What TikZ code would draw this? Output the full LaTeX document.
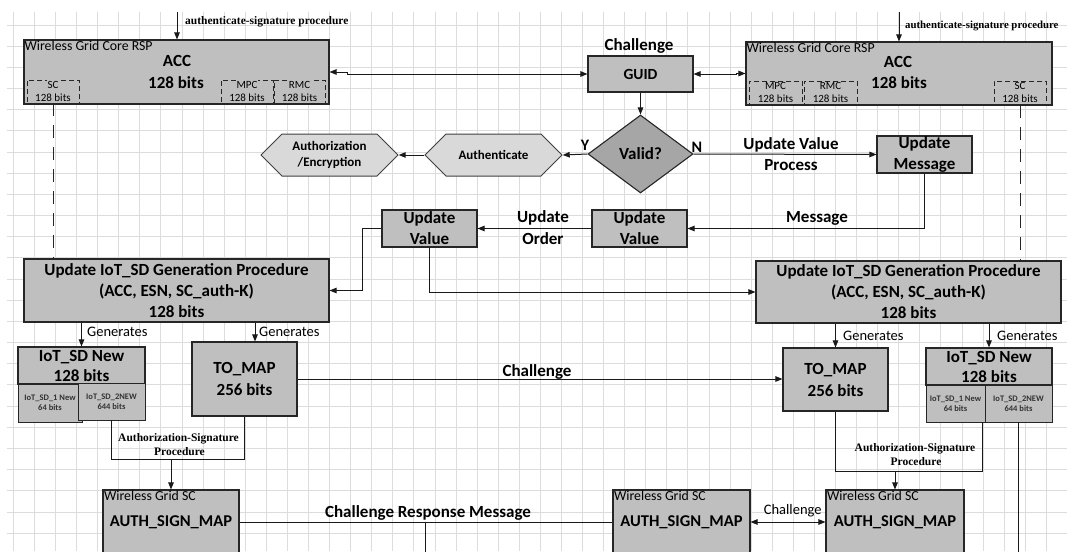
\documentclass[tikz,border=0pt]{standalone}
\usepackage{fontspec}
\setmainfont{Carlito}
\newfontfamily\timesfont{Liberation Serif}
\usetikzlibrary{arrows.meta,shapes.geometric,shapes.symbols}
\definecolor{boxgray}{HTML}{BFBFBF}
\definecolor{hexgray}{HTML}{D9D9D9}
\definecolor{diagray}{HTML}{A6A6A6}
\definecolor{gridline}{HTML}{DCDCDC}
\definecolor{edge}{HTML}{262626}
\definecolor{hexedge}{HTML}{404040}
\newcommand\fsz[2]{\fontsize{#1}{#2}\selectfont}

\begin{document}
\begin{tikzpicture}[x=1pt,y=-1pt,
  box/.style={draw=edge, fill=boxgray, line width=1.1pt, inner sep=0pt, align=center},
  subbox/.style={draw=edge, fill=boxgray, line width=0.9pt, inner sep=0pt, align=center,
                 font=\fsz{8.5}{10}\bfseries, text=black!80},
  dbox/.style={draw=edge, dash pattern=on 5pt off 3pt, line width=0.8pt, inner sep=0pt},
  hexa/.style={shape=signal, signal to=west and east, signal pointer angle=90,
               draw=hexedge, fill=hexgray, line width=1pt, inner sep=0pt,
               minimum height=42, font=\fsz{13}{16.5}\bfseries, align=center},
  big/.style={font=\fsz{17}{21}\bfseries},
  lab/.style={font=\fsz{17}{20}\bfseries, inner sep=0pt},
  gen/.style={font=\fsz{14.5}{16}, inner sep=0pt},
  tnr/.style={font=\timesfont\bfseries\fsz{11.5}{13}, inner sep=0pt},
  tag/.style={font=\fsz{13.8}{15}, inner sep=1pt, anchor=north west},
  tiny/.style={font=\fsz{11}{12}, inner sep=0.5pt, fill=boxgray},
  conn/.style={line width=1pt, draw=black!90},
  arr/.style={conn, -{Triangle[length=7pt,width=5.5pt]}},
  darr/.style={conn, {Triangle[length=7pt,width=5.5pt]}-{Triangle[length=7pt,width=5.5pt]}},
  vdash/.style={line width=1pt, draw=black!85, dash pattern=on 13pt off 9pt},
]
\useasboundingbox (0,0) rectangle (1067,551);
\clip (0,0) rectangle (1067,551);
\fill[white] (0,0) rectangle (1067,551);

% background grid
\foreach \i in {0,...,49}
  \draw[gridline, line width=0.8pt] ({13.3+21.08*\i},12) -- ({13.3+21.08*\i},551);
\foreach \j in {0,...,24}
  \draw[gridline, line width=0.8pt] (7,{25+21.17*\j}) -- (1067,{25+21.17*\j});

% ---- core RSP, left
\node[box, minimum width=305, minimum height=64] (accL) at (176.5,72) {};
\node[tag] (accLtag) at (accL.north west) {Wireless Grid Core RSP};
\node[big, inner sep=0pt] (accLname) at (177,61) {ACC};
\node[big, inner sep=0pt] (accLbits) at (176,83) {128 bits};
\node[dbox, minimum width=52, minimum height=23] (scL) at (53,91.5) {};
\node[dbox, minimum width=52, minimum height=23] (mpcL) at (247,91.5) {};
\node[dbox, minimum width=51, minimum height=23] (rmcL) at (299.5,91.5) {};
\node[tiny] (scLa) at (53,84.5) {SC};
\node[tiny] (scLb) at (53,97.5) {128 bits};
\node[tiny] (mpcLa) at (247,84.5) {MPC};
\node[tiny] (mpcLb) at (247,97.5) {128 bits};
\node[tiny] (rmcLa) at (299.5,84.5) {RMC};
\node[tiny] (rmcLb) at (299.5,97.5) {128 bits};

% ---- core RSP, right
\node[box, minimum width=306, minimum height=63] (accR) at (899,73.5) {};
\node[tag] (accRtag) at (accR.north west) {Wireless Grid Core RSP};
\node[big, inner sep=0pt] (accRname) at (898,62) {ACC};
\node[big, inner sep=0pt] (accRbits) at (899,83) {128 bits};
\node[dbox, minimum width=53, minimum height=24] (mpcR) at (775.5,93) {};
\node[dbox, minimum width=53, minimum height=24] (rmcR) at (830.5,93) {};
\node[dbox, minimum width=52, minimum height=24] (scR) at (1020,93) {};
\node[tiny] (mpcRa) at (775.5,86) {MPC};
\node[tiny] (mpcRb) at (775.5,99) {128 bits};
\node[tiny] (rmcRa) at (830.5,86) {RMC};
\node[tiny] (rmcRb) at (830.5,99) {128 bits};
\node[tiny] (scRa) at (1020,86) {SC};
\node[tiny] (scRb) at (1020,99) {128 bits};

% incoming signature procedure
\coordinate (inL) at (177,12);
\coordinate (inR) at (899,12);
\draw[arr] (inL) -- (inL |- accL.north);
\draw[arr] (inR) -- (inR |- accR.north);
\node[tnr, anchor=base west] (sigL) at (185,25) {authenticate-signature procedure};
\node[tnr, anchor=base west, font=\timesfont\bfseries\fsz{10.8}{12}] (sigR) at (905,29) {authenticate-signature procedure};

% ---- challenge / GUID
\node[box, minimum width=105, minimum height=36, font=\fsz{15.5}{17}\bfseries] (guid) at (640.5,74) {GUID};
\node[lab, anchor=base] (chalTop) at (639,51) {Challenge};
\draw[darr] (accL.east) -- ++(18,0) |- (guid.west);
\draw[darr] (guid.east) -- ++(43,0) |- (accR.west);

% ---- validation
\node[shape=diamond, draw=edge, fill=diagray, line width=1.1pt, inner sep=0pt,
      minimum width=105, minimum height=78, font=\fsz{17}{19}\bfseries] (valid) at (640.5,154) {Valid?};
\draw[arr] (guid.south) -- (valid.north);
\node[hexa, minimum width=137] (authen) at (493.5,155) {Authenticate};
\node[hexa, minimum width=137] (authz) at (329.5,155) {Authorization\\/Encryption};
\draw[arr] (valid.west) -- (authen.east);
\draw[arr] (authen.west) -- (authz.east);
\node[font=\fsz{16}{18}\bfseries, inner sep=0pt] (ylab) at (585,145) {Y};
\node[font=\fsz{16}{18}\bfseries, inner sep=0pt] (nlab) at (697,147) {N};

% ---- update chain
\node[box, big, minimum width=95, minimum height=37] (updmsg) at (924.5,154.5) {Update\\Message};
\draw[arr] (valid.east) -- (updmsg.west);
\node[lab, anchor=base] (uvp1) at (791,149.5) {Update Value};
\node[lab, anchor=base] (uvp2) at (791,170) {Process};

\node[box, big, minimum width=95, minimum height=37] (updvalR) at (639.5,228.5) {Update\\Value};
\node[box, big, minimum width=95, minimum height=37] (updvalL) at (429.5,228.5) {Update\\Value};
\draw[arr] (updmsg.south) |- (updvalR.east);
\node[lab, anchor=base] (msglab) at (817,222.7) {Message};
\draw[arr] (updvalR.west) -- (updvalL.east);
\node[lab, anchor=base] (uo1) at (543,222.7) {Update};
\node[lab, anchor=base] (uo2) at (543,244) {Order};

% ---- generation procedures
\node[box, big, minimum width=305, minimum height=63] (genL) at (176.5,290.5)
  {Update IoT\_SD Generation Procedure\\(ACC, ESN, SC\_auth-K)\\128 bits};
\node[box, big, minimum width=305, minimum height=62] (genR) at (908.5,292)
  {Update IoT\_SD Generation Procedure\\(ACC, ESN, SC\_auth-K)\\128 bits};
\draw[arr] (updvalL.west) -- ++(-19,0) |- (genL.east);
\draw[arr] (updvalL.south) |- (genR.west);
\draw[vdash] (scL.south) -- (scL.south |- genL.north);
\draw[vdash] (scR.south) -- (scR.south |- genR.north);

% ---- generated values, left
\node[box, font=\fsz{17}{20}\bfseries, minimum width=127, minimum height=37] (iotL) at (81.5,365.5) {IoT\_SD New\\128 bits};
\node[subbox, minimum width=64, minimum height=38] (iot1L) at (50,403) {IoT\_SD\_1 New\\64 bits};
\node[subbox, minimum width=67, minimum height=37] (iot2L) at (111.5,401.5) {IoT\_SD\_2NEW\\644 bits};
\node[box, font=\fsz{17}{22}\bfseries, minimum width=105, minimum height=74] (mapL) at (244.5,379) {TO\_MAP\\256 bits};
\draw[arr] (genL.south -| iotL.north) -- (iotL.north);
\node[gen, anchor=base west] (genlab1) at (87,336.7) {Generates};
\coordinate (mapLin) at ([xshift=10.5]mapL.north);
\draw[arr] (mapLin |- genL.south) -- (mapLin);
\node[gen, anchor=base west] (genlab2) at (259,336.7) {Generates};

% ---- generated values, right
\node[box, font=\fsz{17}{22}\bfseries, minimum width=105, minimum height=63] (mapR) at (835.5,379.5) {TO\_MAP\\256 bits};
\node[box, font=\fsz{17}{20}\bfseries, minimum width=126, minimum height=37] (iotR) at (989,366.5) {IoT\_SD New\\128 bits};
\node[subbox, minimum width=59, minimum height=37] (iot1R) at (955.5,403.5) {IoT\_SD\_1 New\\64 bits};
\node[subbox, minimum width=67, minimum height=37] (iot2R) at (1018.5,403.5) {IoT\_SD\_2NEW\\644 bits};
\draw[arr] (mapR.north |- genR.south) -- (mapR.north);
\node[gen, anchor=base west] (genlab3) at (843,340.7) {Generates};
\draw[arr] (iotR.north |- genR.south) -- (iotR.north);
\node[gen, anchor=base west] (genlab4) at (997,340.7) {Generates};

% challenge between the maps
\draw[arr] (mapL.east) -- (mapL.east -| mapR.west);
\node[lab, anchor=base] (chalMid) at (537,376.7) {Challenge};

% ---- authorization-signature, left
\coordinate (brL) at (171,459);
\draw[conn] (iot2L.south) -- (iot2L.south |- brL) -| (mapL.south);
\node[tnr, anchor=base] (asL1) at (178.5,441) {Authorization-Signature};
\node[tnr, anchor=base] (asL2) at (179.5,455) {Procedure};
\node[box, font=\fsz{16.5}{18}\bfseries, minimum width=136, minimum height=64] (authL) at (171,522) {AUTH\_SIGN\_MAP};
\node[tag, inner sep=1.5pt] (authLtag) at (authL.north west) {Wireless Grid SC};
\draw[arr] (brL) -- (authL.north);

% ---- authorization-signature, right
\coordinate (brR) at (895,471);
\coordinate (brRup) at ([xshift=-2.5]iot1R.south east);
\draw[conn] (mapR.south) -- (mapR.south |- brR) -| (brRup);
\node[tnr, anchor=base] (asR1) at (915,451.5) {Authorization-Signature};
\node[tnr, anchor=base] (asR2) at (916,465.5) {Procedure};
\node[box, font=\fsz{16.5}{18}\bfseries, minimum width=138, minimum height=64] (authR) at (895,522) {AUTH\_SIGN\_MAP};
\node[tag, inner sep=1.5pt] (authRtag) at (authR.north west) {Wireless Grid SC};
\draw[arr] (brR) -- (authR.north);
\coordinate (iotRend) at (1018.5,560);
\draw[conn] (iot2R.south) -- (iotRend);

% ---- middle SC and responses
\node[box, font=\fsz{16.5}{18}\bfseries, minimum width=137, minimum height=64] (authM) at (681.5,522) {AUTH\_SIGN\_MAP};
\node[tag, inner sep=1.5pt] (authMtag) at (authM.north west) {Wireless Grid SC};
\draw[conn] (authL.east) -- (authM.west);
\coordinate (tee) at (425,522);
\coordinate (teeEnd) at (425,560);
\draw[conn] (tee) -- (teeEnd);
\node[lab, anchor=base] (crm) at (428,517.5) {Challenge Response Message};
\draw[darr] (authM.east) -- (authR.west);
\node[gen, anchor=base] (chalLow) at (792.7,514) {Challenge};

\end{tikzpicture}
\end{document}
